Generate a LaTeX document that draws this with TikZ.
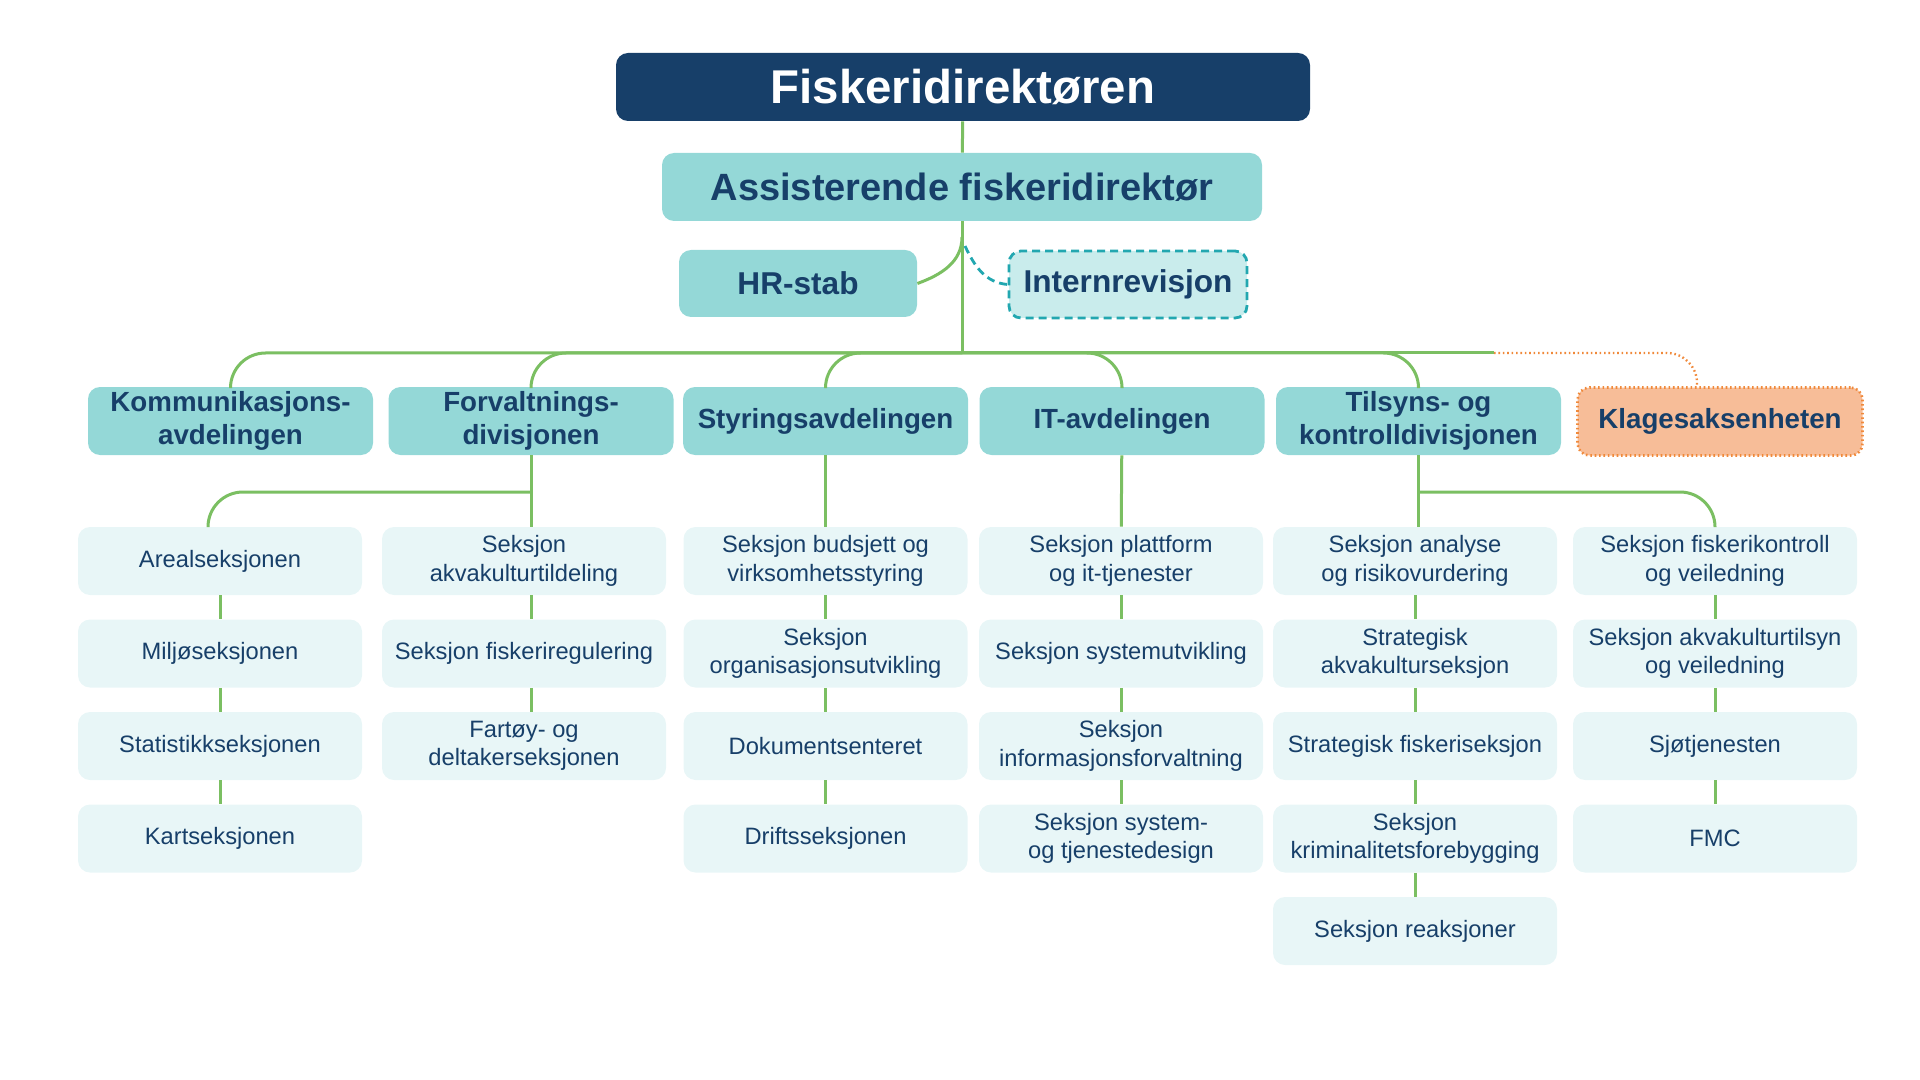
\documentclass[tikz,border=0pt]{standalone}
\usepackage{fontspec}
\setmainfont{Liberation Sans}
\usepackage{xcolor}
\definecolor{fdnavy}{HTML}{173F69}
\definecolor{fdteal}{HTML}{94D8D7}
\definecolor{fdpale}{HTML}{E8F6F7}
\definecolor{fdintern}{HTML}{C9ECEC}
\definecolor{fdturq}{HTML}{22A7B0}
\definecolor{fdpeach}{HTML}{F7BD98}
\definecolor{fdorange}{HTML}{F0893A}
\definecolor{fdgreen}{HTML}{7BBF62}

\begin{document}
\begin{tikzpicture}[x=0.5pt,y=0.5pt]
   \useasboundingbox (0,0) rectangle (1920,-1080);
   \tikzstyle{box}=[rounded corners=6pt, inner sep=2pt, align=center, text=fdnavy]
   \tikzstyle{chief}=[box, fill=fdnavy, text=white, font=\bfseries\fontsize{23.7}{28}\selectfont, minimum width=347pt, minimum height=34pt]
   \tikzstyle{deputy}=[box, fill=fdteal, font=\bfseries\fontsize{19}{23}\selectfont, minimum width=300pt, minimum height=34pt]
   \tikzstyle{staff}=[box, fill=fdteal, font=\bfseries\fontsize{15.8}{19}\selectfont, minimum width=119pt, minimum height=33.5pt]
   \tikzstyle{dept}=[box, fill=fdteal, font=\bfseries\fontsize{13.85}{16.6}\selectfont, minimum width=142.5pt, minimum height=34pt]
   \tikzstyle{sec}=[box, fill=fdpale, font=\fontsize{11.85}{14.15}\selectfont, minimum width=142pt, minimum height=34pt]
   \tikzstyle{link}=[draw=fdgreen, line width=1.5pt]
   \tikzstyle{dashlink}=[draw=fdturq, line width=1.4pt, dash pattern=on 4pt off 2.5pt]
   \tikzstyle{dotlink}=[draw=fdorange, line width=1.2pt, dash pattern=on 0.8pt off 1.4pt]

   \node[chief] (fdir) at (963,-87) {Fiskeridirektøren};
   \node[deputy] (adir) at (962,-187) {Assisterende fiskeridirektør};
   \node[staff] (hr) at (798,-283.5) {HR-stab};
   \node[staff, fill=fdintern, dashlink] (intern) at (1128,-284.5) {Internrevisjon};
   \foreach \name/\x/\txt in {komm/230.5/{Kommunikasjons-\\avdelingen}, forv/531/{Forvaltnings-\\divisjonen}, styr/825.5/{Styringsavdelingen}, it/1122/{IT-avdelingen}, tils/1418.5/{Tilsyns- og\\kontrolldivisjonen}}
       \node[dept] (\name) at (\x,-421) {\txt};
   \node[dept, fill=fdpeach, dotlink, line width=1.3pt] (klage) at (1720,-421.5) {Klagesaksenheten};

   \foreach \i/\txt in {1/{Arealseksjonen}, 2/{Miljøseksjonen}, 3/{Statistikkseksjonen}, 4/{Kartseksjonen}}
       \node[sec] (fa\i) at (220,{-468.5-92.5*\i}) {\txt};
   \foreach \i/\txt in {1/{Seksjon\\akvakulturtildeling}, 2/{Seksjon fiskeriregulering}, 3/{Fartøy- og\\deltakerseksjonen}}
       \node[sec] (fb\i) at (524,{-468.5-92.5*\i}) {\txt};
   \foreach \i/\txt in {1/{Seksjon budsjett og\\virksomhetsstyring}, 2/{Seksjon\\organisasjonsutvikling}, 3/{Dokumentsenteret}, 4/{Driftsseksjonen}}
       \node[sec] (sty\i) at (825.5,{-468.5-92.5*\i}) {\txt};
   \foreach \i/\txt in {1/{Seksjon plattform\\og it-tjenester}, 2/{Seksjon systemutvikling}, 3/{Seksjon\\informasjonsforvaltning}, 4/{Seksjon system-\\og tjenestedesign}}
       \node[sec] (it\i) at (1121,{-468.5-92.5*\i}) {\txt};
   \foreach \i/\txt in {1/{Seksjon analyse\\og risikovurdering}, 2/{Strategisk\\akvakulturseksjon}, 3/{Strategisk fiskeriseksjon}, 4/{Seksjon\\kriminalitetsforebygging}, 5/{Seksjon reaksjoner}}
       \node[sec] (ta\i) at (1415,{-468.5-92.5*\i}) {\txt};
   \foreach \i/\txt in {1/{Seksjon fiskerikontroll\\og veiledning}, 2/{Seksjon akvakulturtilsyn\\og veiledning}, 3/{Sjøtjenesten}, 4/{FMC}}
       \node[sec] (tb\i) at (1715,{-468.5-92.5*\i}) {\txt};

   \coordinate (split) at (962,-237);
   \coordinate (isplit) at (965,-246);
   \coordinate (bus) at (962,-353);
   \coordinate (kbus) at (1494,-353);
   \coordinate (fbus) at (531,-492);
   \coordinate (tbus) at (1418.5,-492);

   \path[link] (fdir) edge (adir);
   \draw[link] (adir) -- (bus);
   \draw[link] (split) to[out=-90,in=20] (hr.east);
   \draw[dashlink] (isplit) to[out=-65,in=175] (intern.west);
   \foreach \d in {komm,forv,styr,it,tils}
       \draw[link, rounded corners=17.5pt] (bus) -| (\d.north);
   \draw[link] (bus) -- (kbus);
   \draw[dotlink, rounded corners=15pt] (kbus) -| ([xshift=-11.5pt]klage.north);

   \draw[link] (forv) -- (forv.south |- fb1.north);
   \draw[link, rounded corners=17.5pt] (fbus) -| ([xshift=-6pt]fa1.north);
   \draw[link] (styr) -- (sty1);
   \draw[link] (it) -- (it1);
   \draw[link] (tils) -- (tils.south |- ta1.north);
   \draw[link, rounded corners=17.5pt] (tbus) -| (tb1.north);
   \foreach \a/\b in {fb1/fb2, fb2/fb3}
       \path[link] (\a.south -| forv.south) edge (\b.north -| forv.south);
   \foreach \a/\b in {fa1/fa2, fa2/fa3, fa3/fa4, sty1/sty2, sty2/sty3, sty3/sty4, it1/it2, it2/it3, it3/it4, ta1/ta2, ta2/ta3, ta3/ta4, ta4/ta5, tb1/tb2, tb2/tb3, tb3/tb4}
       \path[link] (\a) edge (\b);
\end{tikzpicture}
\end{document}
